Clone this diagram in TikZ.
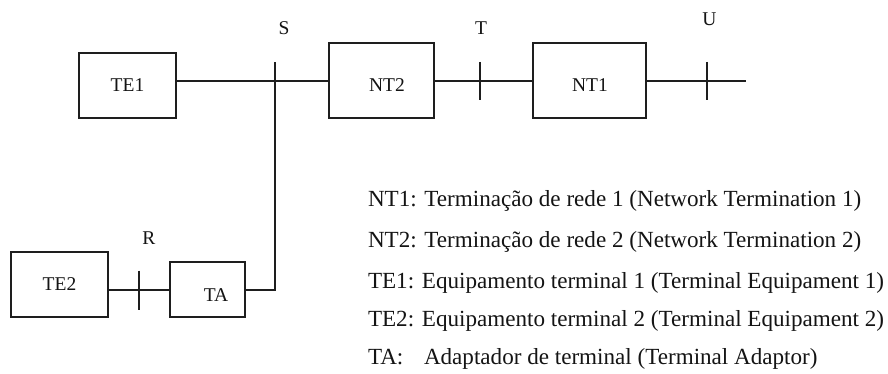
\documentclass[tikz,border=0pt]{standalone}
\usepackage{fontspec}
\setmainfont{Liberation Serif}

\begin{document}
\begin{tikzpicture}[x=1pt,y=-1pt,
  box/.style={draw={rgb,255:red,30;green,30;blue,30},line width=1.4pt,inner sep=0pt,outer sep=0pt,anchor=north west},
  wire/.style={draw={rgb,255:red,30;green,30;blue,30},line width=1.4pt},
  lbl/.style={inner sep=0pt,outer sep=0pt,text={rgb,255:red,20;green,20;blue,20},font=\fontsize{19.5}{23}\selectfont},
  legend/.style={lbl,anchor=base west,font=\fontsize{23.1}{27}\selectfont}]
\path[use as bounding box] (0,0) rectangle (888,374);
\path[fill=white,draw=none] (0,0) rectangle (888,374);
% blocks
\node[box,minimum width=97pt,minimum height=65pt] (te1) at (79,53) {};
\node[box,minimum width=105pt,minimum height=75pt] (nt2) at (329,43) {};
\node[box,minimum width=113pt,minimum height=75pt] (nt1) at (533,43) {};
\node[box,minimum width=97pt,minimum height=65pt] (te2) at (11,252) {};
\node[box,minimum width=75pt,minimum height=55pt] (ta) at (170,262) {};
\node[lbl] (te1-txt) at ([shift={(0,-0.5)}]te1.center) {TE1};
\node[lbl] (nt2-txt) at ([shift={(5.5,5)}]nt2.center) {NT2};
\node[lbl] (nt1-txt) at ([shift={(0.5,5)}]nt1.center) {NT1};
\node[lbl] (te2-txt) at (te2.center) {TE2};
\node[lbl] (ta-txt) at ([shift={(8.5,5.5)}]ta.center) {TA};
% reference points
\coordinate (s) at (275,81);
\coordinate (s-top) at (275,62);
\coordinate (t) at (480,81);
\coordinate (u) at (707,81);
\coordinate (u-end) at (746,81);
\coordinate (r) at (139,290);
\node[lbl] (s-txt) at (284,28.5) {S};
\node[lbl] (t-txt) at (481,28) {T};
\node[lbl] (u-txt) at (709.5,19) {U};
\node[lbl] (r-txt) at (149,238) {R};
% lines
\draw[wire] (te1.east |- s) -- (nt2.west |- s);
\draw[wire] (nt2.east |- t) -- (nt1.west |- t);
\draw[wire] (nt1.east |- u) -- (u-end);
\draw[wire] (te2.east |- r) -- (ta.west |- r);
\draw[wire] (ta.east |- r) -| (s-top);
\draw[wire] ([yshift=19pt]t) -- ([yshift=-19pt]t);
\draw[wire] ([yshift=19pt]u) -- ([yshift=-19pt]u);
\draw[wire] ([yshift=19.5pt]r) -- ([yshift=-19.5pt]r);
% legend
\node[legend] (leg-nt1) at (368,207) {NT1: Terminação de rede 1 (Network Termination 1)};
\node[legend] (leg-nt2) at (368,247) {NT2: Terminação de rede 2 (Network Termination 2)};
\node[legend] (leg-te1) at (368,288) {TE1: Equipamento terminal 1 (Terminal Equipament 1)};
\node[legend] (leg-te2) at (368,326) {TE2: Equipamento terminal 2 (Terminal Equipament 2)};
\node[legend] (leg-ta) at (368,364) {\makebox[56pt][l]{TA:}Adaptador de terminal (Terminal Adaptor)};
\end{tikzpicture}
\end{document}
